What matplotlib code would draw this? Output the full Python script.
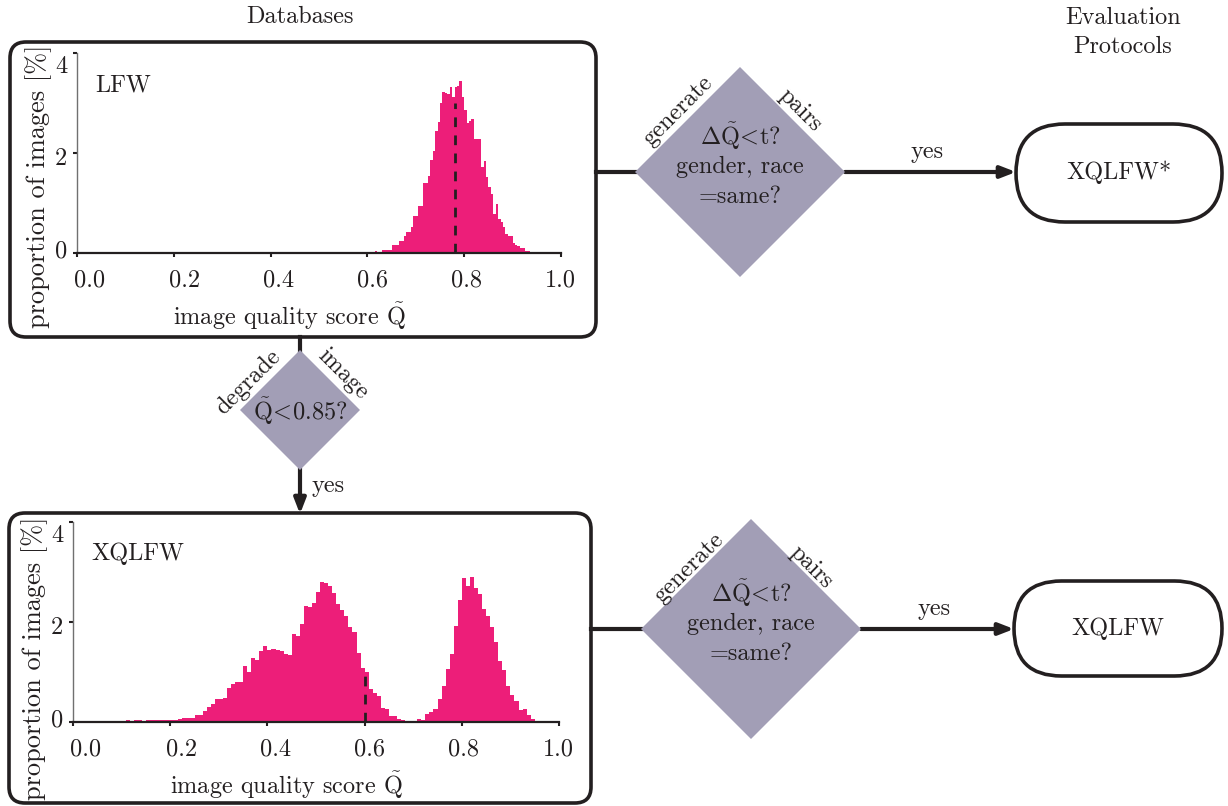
import numpy as np
import matplotlib
matplotlib.use("Agg")
import matplotlib.pyplot as plt
import matplotlib.transforms as mtransforms
from matplotlib.patches import FancyBboxPatch, Polygon

plt.rcParams['font.family'] = 'cmr10'
plt.rcParams['mathtext.fontset'] = 'cm'
plt.rcParams['axes.formatter.use_mathtext'] = True

# LFW histogram: bins of 0.005 starting at 0.55
lfw_start = 0.55
lfw_width = 0.005
lfw_values = [0.01, 0.01, 0.015, 0.015, 0.015, 0.015, 0.015, 0.02, 0.025, 0.025,
              0.02, 0.02, 0.02, 0.05, 0.03, 0.03, 0.07, 0.07, 0.07, 0.07,
              0.17, 0.17, 0.17, 0.25, 0.25, 0.34, 0.43, 0.43, 0.52, 0.74,
              0.74, 0.95, 0.95, 1.41, 1.41, 1.55, 1.87, 2.05, 2.45, 2.62,
              3.00, 3.23, 3.21, 3.19, 3.33, 3.12, 3.32, 3.35, 3.44, 3.12,
              2.87, 2.60, 2.65, 2.69, 2.29, 2.28, 2.28, 1.72, 1.85, 1.52,
              1.32, 1.19, 0.79, 0.99, 0.69, 0.62, 0.52, 0.39, 0.35, 0.35,
              0.21, 0.17, 0.14, 0.11, 0.11, 0.05, 0.05, 0.02, 0.02, 0.02]
lfw_mark = 0.78
lfw_mark_height = 3.0

# XQLFW histogram: bins of 1/120 starting at 0.1
xq_start = 0.1
xq_width = 1 / 120
xq_values = [0.03, 0.04, 0.03, 0.04, 0.035, 0.03, 0.035, 0.04, 0.04, 0.035, 0.04, 0.045,
             0.045, 0.05, 0.07, 0.08, 0.08, 0.08, 0.15, 0.14, 0.22, 0.31, 0.37, 0.47,
             0.46, 0.49, 0.68, 0.77, 0.81, 0.80, 1.13, 1.01, 1.29, 1.24, 1.42, 1.53,
             1.45, 1.47, 1.44, 1.43, 1.37, 1.35, 1.76, 1.72, 1.97, 2.33, 2.31, 2.39,
             2.60, 2.80, 2.79, 2.73, 2.59, 2.37, 2.25, 2.12, 1.91, 1.80, 1.39, 1.09,
             1.00, 0.67, 0.59, 0.52, 0.29, 0.27, 0.13, 0.12, 0.07, 0.05, 0.03, 0.03,
             0.03, 0.06, 0.05, 0.17, 0.20, 0.27, 0.47, 0.73, 1.07, 1.37, 1.93, 2.45,
             2.89, 2.73, 2.90, 2.69, 2.57, 2.27, 2.13, 1.91, 1.60, 1.23, 1.04, 0.73,
             0.55, 0.42, 0.24, 0.27, 0.15, 0.07, 0.03]
xq_mark = 0.6
xq_mark_height = 1.0

x_ticks = [0.0, 0.2, 0.4, 0.6, 0.8, 1.0]
x_tick_labels = ['0.0', '0.2', '0.4', '0.6', '0.8', '1.0']
y_ticks = [0, 2, 4]
y_tick_labels = ['0', '2', '4']

INK = '#231f20'
PINK = '#ed1e79'
LILAC = '#a29eb6'
W, H = 1228, 806
FS = 17.5

fig = plt.figure(figsize=(W / 100, H / 100), dpi=100)
bg = fig.add_axes([0, 0, 1, 1])
bg.set_xlim(0, W)
bg.set_ylim(H, 0)
bg.axis('off')


def px_axes(x0, x1, ybot, ytop):
    return fig.add_axes([x0 / W, 1 - ybot / H, (x1 - x0) / W, (ybot - ytop) / H])


def hist_panel(ax, start, width, values, mark, mark_h, name, ylab_y):
    edges = start + width * np.arange(len(values) + 1)
    ax.stairs(values, edges, fill=True, color=PINK, lw=0)
    ax.plot([mark, mark], [0, mark_h], color=INK, lw=2, ls=(0, (3.5, 3)))
    ax.set_xlim(0, 1)
    ax.set_ylim(0, 4)
    ax.patch.set_alpha(0)
    for s in ['top', 'right']:
        ax.spines[s].set_visible(False)
    ax.spines['bottom'].set_color(INK)
    ax.spines['bottom'].set_linewidth(1.6)
    ax.spines['left'].set_color('#707070')
    ax.spines['left'].set_linewidth(1)
    ax.set_xticks(x_ticks, x_tick_labels, fontsize=FS)
    ax.set_yticks(y_ticks, y_tick_labels, fontsize=FS)
    ax.tick_params(direction='out', length=3, width=1.5, color=INK, labelcolor=INK)
    ax.tick_params(axis='x', pad=9)
    ax.tick_params(axis='y', pad=4)
    # labels in the original sit slightly off their ticks
    for lab, dx in zip(ax.get_xticklabels(), [13, 11, 8, 5, 2, -1]):
        lab.set_transform(lab.get_transform() + mtransforms.ScaledTranslation(dx / 100, 0, fig.dpi_scale_trans))
    for lab, dy in zip(ax.get_yticklabels(), [4, -3, -11]):
        lab.set_transform(lab.get_transform() + mtransforms.ScaledTranslation(0, dy / 100, fig.dpi_scale_trans))
    ax.set_xlabel(r'image quality score $\tilde{\mathrm{Q}}$', fontsize=FS, color=INK)
    ax.xaxis.set_label_coords(0.44, -0.315)
    ax.xaxis.label.set_va('center')
    ax.set_ylabel('proportion of images [%]', fontsize=19, color=INK)
    ax.yaxis.set_label_coords(-0.079, ylab_y)
    ax.yaxis.label.set_va('center')
    ax.text(0.037, 0.84, name, transform=ax.transAxes, fontsize=FS, color=INK, va='center')


# frames round the two databases
for (x, y, w, h) in [(10, 42, 586, 295), (9, 513, 582, 290)]:
    bg.add_patch(FancyBboxPatch((x, y), w, h, boxstyle='round,pad=0,rounding_size=16',
                                fc='none', ec=INK, lw=2.6))

ax_top = px_axes(77, 561, 253, 53)
hist_panel(ax_top, lfw_start, lfw_width, lfw_values, lfw_mark, lfw_mark_height, 'LFW', 0.335)
ax_bot = px_axes(73, 559, 722, 522)
hist_panel(ax_bot, xq_start, xq_width, xq_values, xq_mark, xq_mark_height, 'XQLFW', 0.32)

bg.text(300, 17, 'Databases', fontsize=FS, color=INK, ha='center', va='center')
bg.text(1123, 32, 'Evaluation\nProtocols', fontsize=FS, color=INK, ha='center', va='center',
        linespacing=1.4)


def diamond(cx, cy, r):
    bg.add_patch(Polygon([(cx - r, cy), (cx, cy - r), (cx + r, cy), (cx, cy + r)],
                         closed=True, fc=LILAC, ec='none', zorder=2))


def arrow(x0, y0, x1, y1):
    bg.annotate('', xy=(x1, y1), xytext=(x0, y0),
                arrowprops=dict(arrowstyle='-|>,head_length=0.9,head_width=0.35',
                                lw=3, color=INK, shrinkA=0, shrinkB=0), zorder=1)


def pair_step(cx, cy, r, box_right, term):
    bg.plot([box_right, cx - r], [cy, cy], color=INK, lw=3, zorder=1)
    diamond(cx, cy, r)
    bg.text(cx, cy - 36, r'$\Delta\tilde{\mathrm{Q}}\!<\!\mathrm{t}?$', fontsize=FS, color=INK,
            ha='center', va='center', zorder=3)
    bg.text(cx, cy - 5, 'gender, race', fontsize=FS, color=INK, ha='center', va='center', zorder=3)
    bg.text(cx, cy + 25, '=same?', fontsize=FS, color=INK, ha='center', va='center', zorder=3)
    bg.text(cx - 62, cy - 61, 'generate', fontsize=FS, color=INK, rotation=45,
            rotation_mode='anchor', ha='center', va='center')
    bg.text(cx + 60, cy - 62, 'pairs', fontsize=FS, color=INK, rotation=-45,
            rotation_mode='anchor', ha='center', va='center')
    tx0, ty0, tx1, ty1, name = term
    arrow(cx + r, cy, tx0, cy)
    bg.text((cx + r + tx0) / 2 - 3, cy - 20, 'yes', fontsize=FS, color=INK, ha='center', va='center')
    hh = (ty1 - ty0) / 2
    bg.add_patch(FancyBboxPatch((tx0, ty0), tx1 - tx0, ty1 - ty0,
                                boxstyle='round,pad=0,rounding_size=%g' % hh,
                                fc='white', ec=INK, lw=2.6))
    bg.text((tx0 + tx1) / 2, cy, name, fontsize=FS, color=INK, ha='center', va='center')


pair_step(740, 172, 105, 596, (1016, 124, 1222, 222, 'XQLFW*'))
pair_step(751, 629, 110, 591, (1014, 581, 1222, 676, 'XQLFW'))

# degradation step between the two databases
bg.plot([300, 300], [337, 352], color=INK, lw=3, zorder=1)
diamond(300, 410, 60)
bg.text(300, 411, r'$\tilde{\mathrm{Q}}\!<\!0.85?$', fontsize=FS, color=INK, ha='center',
        va='center', zorder=3)
bg.text(248, 382, 'degrade', fontsize=FS, color=INK, rotation=45, rotation_mode='anchor',
        ha='center', va='center')
bg.text(343, 374, 'image', fontsize=FS, color=INK, rotation=-45, rotation_mode='anchor',
        ha='center', va='center')
arrow(300, 468, 300, 514)
bg.text(328, 486, 'yes', fontsize=FS, color=INK, ha='center', va='center')

fig.savefig('out.png', dpi=100)
